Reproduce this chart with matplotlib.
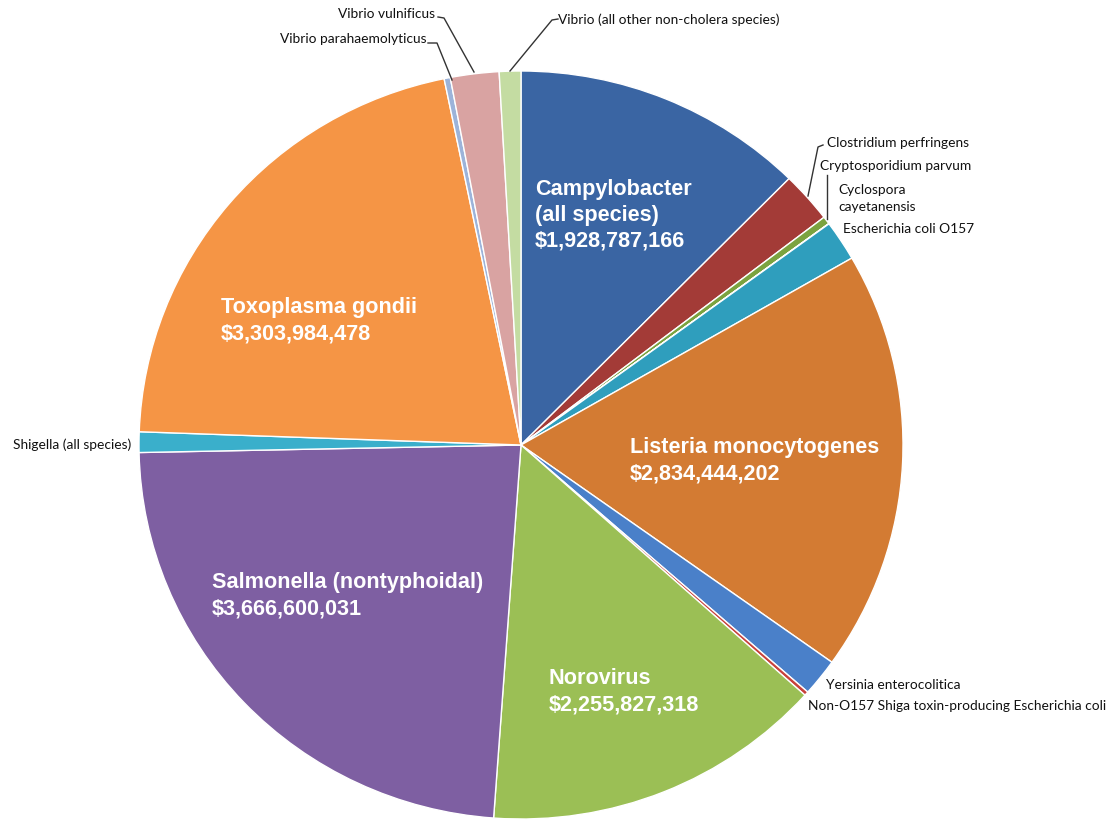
import matplotlib
matplotlib.use("Agg")
import matplotlib.pyplot as plt
from matplotlib.lines import Line2D

W, H = 1117, 822

categories = [
    "Campylobacter (all species)", "Clostridium perfringens", "Cryptosporidium parvum",
    "Cyclospora cayetanensis", "Escherichia coli O157", "Listeria monocytogenes",
    "Yersinia enterocolitica", "Non-O157 Shiga toxin-producing Escherichia coli",
    "Norovirus", "Salmonella (nontyphoidal)", "Shigella (all species)", "Toxoplasma gondii",
    "Vibrio parahaemolyticus", "Vibrio vulnificus", "Vibrio (all other non-cholera species)",
]
costs = [
    1928787166, 342668215, 51889747, 2175700, 271418690, 2834444202,
    252490101, 27364561, 2255827318, 3666600031, 137960901, 3303984478,
    40682312, 319850656, 142073256,
]
colors = [
    "#3A65A3", "#A33B37", "#7BA33F", "#6B4F92", "#2F9EBD", "#D37B33",
    "#4A80C9", "#C8413B", "#9BBF55", "#7E5FA2", "#3AAFCB", "#F59545",
    "#9CB3D9", "#D9A3A2", "#C4DCA2",
]

# big in-slice labels: (lines, left x px, first baseline px)
inner_labels = [
    (["Campylobacter", "(all species)", "$1,928,787,166"], 535, 195),
    (["Toxoplasma gondii", "$3,303,984,478"], 221, 313),
    (["Listeria monocytogenes", "$2,834,444,202"], 630, 453),
    (["Salmonella (nontyphoidal)", "$3,666,600,031"], 212, 588),
    (["Norovirus", "$2,255,827,318"], 549, 684),
]
# small outside labels: (lines, left x px, first baseline px)
outer_labels = [
    (["Vibrio vulnificus"], 338, 18),
    (["Vibrio parahaemolyticus"], 280, 43),
    (["Vibrio (all other non-cholera species)"], 558, 24),
    (["Clostridium perfringens"], 827, 147),
    (["Cryptosporidium parvum"], 820, 170),
    (["Cyclospora", "cayetanensis"], 838, 194),
    (["Escherichia coli O157"], 843, 233),
    (["Shigella (all species)"], 13, 449),
    (["Yersinia enterocolitica"], 826, 689),
    (["Non-O157 Shiga toxin-producing Escherichia coli"], 808, 710),
]
leaders = [
    [(438, 17), (444, 18), (474, 72)],
    [(428, 43), (437, 43), (452, 80)],
    [(558, 19), (552, 20), (510, 71)],
    [(823, 145), (818, 147), (808, 196)],
    [(827, 175), (827, 219)],
]

fig = plt.figure(figsize=(W / 100, H / 100), dpi=100)
fig.patch.set_facecolor("white")

# pie bounds in pixels
px_left, px_right, px_top, px_bottom = 139, 903, 71, 819
ax = fig.add_axes([px_left / W, 1 - px_bottom / H, (px_right - px_left) / W, (px_bottom - px_top) / H])
ax.pie(costs, colors=colors, startangle=90, counterclock=False, radius=1.0,
       wedgeprops=dict(edgecolor="white", linewidth=1.0))
ax.set_aspect("auto")
ax.set_xlim(-1, 1)
ax.set_ylim(-1, 1)
ax.axis("off")


def fx(x):
    return x / W


def fy(y):
    return 1 - y / H


for lines, x, y in inner_labels:
    for i, t in enumerate(lines):
        fig.text(fx(x), fy(y + i * 26), t, color="white", fontsize=15.6, fontweight="bold",
                 family="Liberation Sans", ha="left", va="baseline")

for lines, x, y in outer_labels:
    for i, t in enumerate(lines):
        fig.text(fx(x), fy(y + i * 17), t, color="#111111", fontsize=9.9,
                 family="Lato", ha="left", va="baseline")

for pts in leaders:
    xs = [fx(p[0]) for p in pts]
    ys = [fy(p[1]) for p in pts]
    fig.add_artist(Line2D(xs, ys, color="#333333", linewidth=1.0, transform=fig.transFigure))

fig.savefig("out.png", dpi=100, facecolor="white")
